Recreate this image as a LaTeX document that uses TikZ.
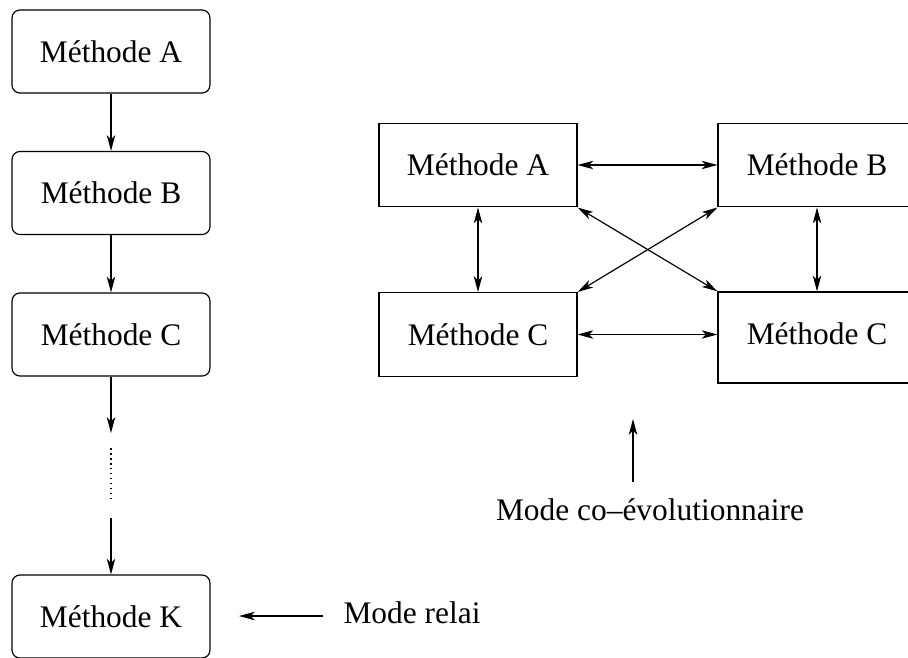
\documentclass[tikz,border=0pt]{standalone}
\usepackage{fontspec}
\setmainfont{Liberation Serif}
\usetikzlibrary{arrows.meta}

\tikzset{
  arr/.style={line width=0.45pt, -{Stealth[length=6pt,width=3.2pt,inset=1.6pt]}},
  biarr/.style={line width=0.45pt, {Stealth[length=6pt,width=3.2pt,inset=1.6pt]}-{Stealth[length=6pt,width=3.2pt,inset=1.6pt]}},
  roundbox/.style={draw, line width=0.45pt, rounded corners=3pt, minimum width=75.6pt, minimum height=31.7pt},
  squarebox/.style={draw, line width=0.45pt, minimum width=75.6pt, minimum height=32pt}
}

\begin{document}
\begin{tikzpicture}[x=0.382pt, y=-0.382pt, font=\fontsize{12}{14}\selectfont]
	%%%%% START %%%%%
	\clip (0,0) rectangle (908,657);
	
	% mode relai
	\node[roundbox] (la) at (111,51.5) {Méthode A};
	\node[roundbox] (lb) at (111,193) {Méthode B};
	\node[roundbox] (lc) at (111,334.5) {Méthode C};
	\node[roundbox] (lk) at (111,616.5) {Méthode K};
	
	\coordinate (lcend) at (111,433);
	\coordinate (dottop) at (111,448);
	\coordinate (dotbot) at (111,500);
	\coordinate (lkstart) at (111,518);
	
	\draw[arr] (la) -- (lb);
	\draw[arr] (lb) -- (lc);
	\draw[arr] (lc) -- (lcend);
	\draw[line width=0.9pt, dash pattern=on 0.6pt off 1.3pt] (dottop) -- (dotbot);
	\draw[arr] (lkstart) -- (lk);
	
	\node (relai) at (412,613) {Mode relai};
	\coordinate (relaistart) at (323,616);
	\coordinate (relaiend) at (239,616);
	\draw[arr] (relaistart) -- (relaiend);
	
	% mode co-evolutionnaire
	\node[squarebox] (ra) at (478,165) {Méthode A};
	\node[squarebox] (rb) at (817,165) {Méthode B};
	\node[squarebox] (rc) at (478,334.5) {Méthode C};
	\node[squarebox, minimum height=34.8pt, text depth=3pt] (rd) at (817,337.5) {Méthode C};
	
	\draw[biarr] (ra) -- (rb);
	\draw[biarr] (ra) -- (rc);
	\draw[biarr] (rb) -- (rb |- rd.north);
	\draw[biarr] (rc) -- (rc -| rd.west);
	\draw[biarr] (ra.south east) -- (rd.north west);
	\draw[biarr] (rb.south west) -- (rc.north east);
	
	\node (coevo) at (650,510) {Mode co--évolutionnaire};
	\coordinate (coevostart) at (633,482);
	\coordinate (coevoend) at (633,419);
	\draw[arr] (coevostart) -- (coevoend);
	
	%%%%% END %%%%%
\end{tikzpicture}
\end{document}
